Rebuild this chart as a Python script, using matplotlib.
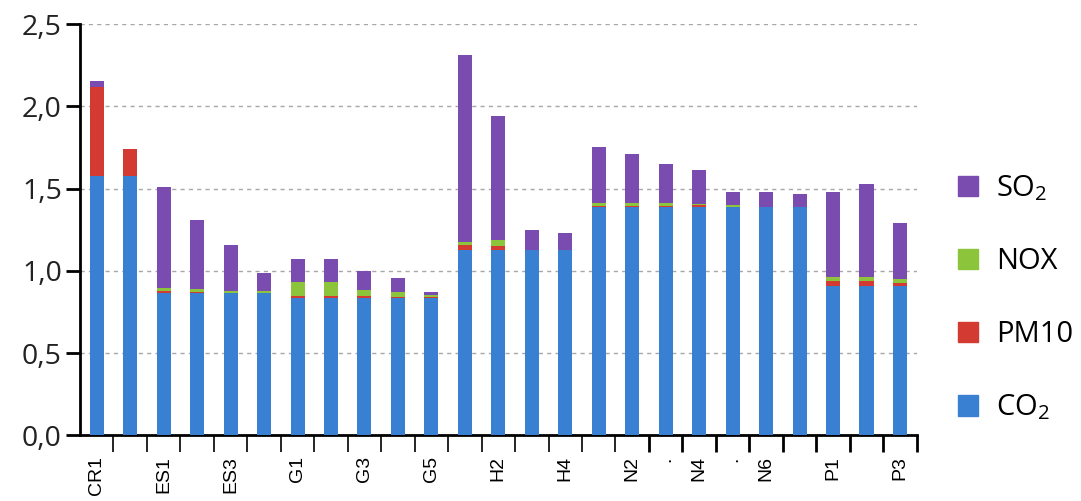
import matplotlib
matplotlib.use("Agg")
import matplotlib.pyplot as plt
import numpy as np
from matplotlib.patches import Patch

plt.rcParams['font.family'] = ['Open Sans', 'DejaVu Sans']
plt.rcParams['mathtext.fontset'] = 'custom'
plt.rcParams['mathtext.rm'] = 'Open Sans'
plt.rcParams['mathtext.it'] = 'Open Sans'

# ---- data ----
n_bars = 25
x_labels = {0: "CR1", 2: "ES1", 4: "ES3", 6: "G1", 8: "G3", 10: "G5", 12: "H2",
            14: "H4", 16: "N2", 17: ".", 18: "N4", 19: ".", 20: "N6", 22: "P1", 24: "P3"}

co2 = [1.578, 1.578, 0.864, 0.864, 0.864, 0.864, 0.834, 0.834, 0.834, 0.834, 0.834,
       1.128, 1.128, 1.128, 1.128, 1.385, 1.385, 1.385, 1.385, 1.385, 1.385, 1.385,
       0.909, 0.909, 0.909]
pm10 = [0.539, 0.164, 0.014, 0.006, 0.003, 0.002, 0.016, 0.016, 0.016, 0.010, 0.004,
        0.028, 0.020, 0.000, 0.000, 0.012, 0.012, 0.010, 0.016, 0.005, 0.000, 0.000,
        0.032, 0.032, 0.020]
nox = [0.000, 0.000, 0.017, 0.020, 0.012, 0.012, 0.085, 0.085, 0.035, 0.026, 0.016,
       0.018, 0.040, 0.000, 0.000, 0.018, 0.018, 0.016, 0.003, 0.010, 0.000, 0.000,
       0.024, 0.024, 0.021]
so2 = [0.034, 0.000, 0.617, 0.420, 0.276, 0.110, 0.138, 0.138, 0.113, 0.086, 0.018,
       1.139, 0.756, 0.121, 0.100, 0.337, 0.298, 0.239, 0.209, 0.080, 0.097, 0.083,
       0.517, 0.562, 0.342]

y_ticks = [0.0, 0.5, 1.0, 1.5, 2.0, 2.5]
y_tick_labels = ["0,0", "0,5", "1,0", "1,5", "2,0", "2,5"]

c_co2 = "#3a80d2"
c_pm10 = "#d23a32"
c_nox = "#8cc43c"
c_so2 = "#7b4cb0"

# ---- figure ----
fig = plt.figure(figsize=(10.81, 5.01), dpi=100)
ax = fig.add_axes([0.074, 0.131, 0.774, 0.821])

x = np.arange(n_bars)
w = 0.42
co2 = np.array(co2); pm10 = np.array(pm10); nox = np.array(nox); so2 = np.array(so2)
ax.bar(x, co2, w, color=c_co2, zorder=3)
ax.bar(x, pm10, w, bottom=co2, color=c_pm10, zorder=3)
ax.bar(x, nox, w, bottom=co2 + pm10, color=c_nox, zorder=3)
ax.bar(x, so2, w, bottom=co2 + pm10 + nox, color=c_so2, zorder=3)

ax.set_xlim(-0.5, n_bars - 0.5)
ax.set_ylim(0, 2.5)

for gy in y_ticks[1:]:
    ax.axhline(gy, color="#a8a8a8", lw=1.0, ls=(0, (3, 3)), zorder=1)

ax.set_yticks(y_ticks)
ax.set_yticklabels(y_tick_labels, fontsize=20.5, color="#222222")
ax.tick_params(axis='y', length=10, width=2, pad=3, direction='out')

pos = sorted(x_labels)
ax.set_xticks(pos)
ax.set_xticklabels([x_labels[p] for p in pos], rotation=90, fontsize=14,
                   family=['Liberation Sans', 'DejaVu Sans'], va='top')
ax.tick_params(axis='x', length=0, pad=15)

minor = np.arange(0.5, n_bars, 1.0)
ax.set_xticks(minor, minor=True)
ax.tick_params(axis='x', which='minor', length=12, width=2, direction='out')
for t, m in zip(ax.xaxis.get_minor_ticks(), minor):
    if m < 16:
        t.tick1line.set_color("#b0b0b0")
        t.tick1line.set_markeredgewidth(1.2)
    else:
        t.tick1line.set_color("black")

for s in ["top", "right"]:
    ax.spines[s].set_visible(False)
ax.spines["left"].set_linewidth(2)
ax.spines["bottom"].set_linewidth(2)

handles = [Patch(color=c_so2), Patch(color=c_nox), Patch(color=c_pm10), Patch(color=c_co2)]
labels = ["SO$_2$", "NOX", "PM10", "CO$_2$"]
fig.legend(handles, labels, loc="center left", bbox_to_anchor=(0.886, 0.405),
           frameon=False, fontsize=21, handlelength=0.7, handleheight=0.7,
           handletextpad=0.6, labelspacing=1.5, borderpad=0, borderaxespad=0)

fig.savefig("out.png", dpi=100)
